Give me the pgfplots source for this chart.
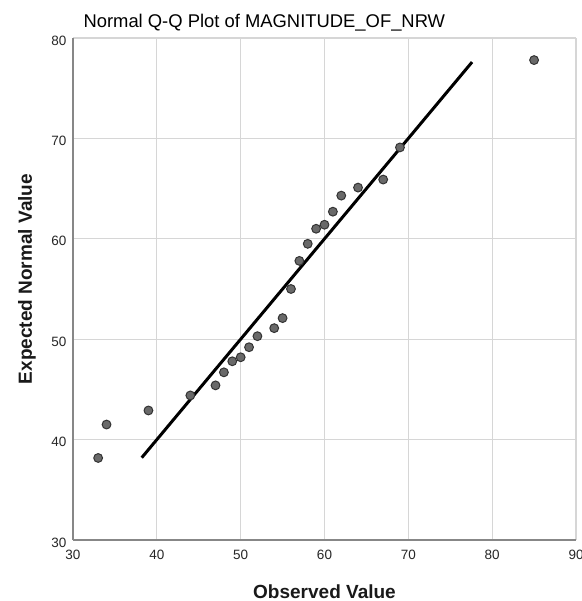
\documentclass[border=0pt]{standalone}
\usepackage{pgfplots}
\pgfplotsset{compat=1.18}
\usepackage{fontspec}
\setmainfont{Liberation Sans}
\definecolor{gridc}{RGB}{214,214,214}
\definecolor{axc}{RGB}{135,135,135}
\definecolor{markc}{RGB}{105,105,105}
\begin{document}
\begin{tikzpicture}
\begin{axis}[
  at={(0pt,0pt)}, anchor=south west,
  scale only axis, width=503pt, height=502pt,
  xmin=30, xmax=90, ymin=30, ymax=80,
  xtick={30,40,...,90}, ytick={30,40,...,80},
  grid=major, major grid style={gridc, line width=1.2pt},
  axis x line*=bottom, axis y line*=left,
  axis line style={axc, line width=1.2pt},
  major tick length=0pt,
  ticklabel style={font=\fontsize{13.5}{15}\selectfont, text=black!85},
  xticklabel style={yshift=-7pt},
  yticklabel style={xshift=-3pt, yshift=-2.5pt},
  /pgf/number format/assume math mode=true,
]
\addplot[only marks, mark=*, mark size=4.4pt,
  mark options={fill=markc, draw=black!80, line width=1pt}] coordinates {
  (33,38.17) (34,41.5) (39,42.9) (44,44.4) (47,45.4) (48,46.7) (49,47.8)
  (50,48.2) (51,49.2) (52,50.3) (54,51.1) (55,52.1) (56,55.0) (57,57.8)
  (58,59.5) (59,61.0) (60,61.4) (61,62.7) (62,64.3) (64,65.1) (67,65.9)
  (69,69.1) (85,77.8)
};
\addplot[black, line width=3pt] coordinates {(38.2,38.2) (77.6,77.6)};
\end{axis}
\node[anchor=base west, font=\fontsize{18.4}{20}\selectfont, text=black] at (7pt,512pt) {Normal Q-Q Plot of MAGNITUDE\_OF\_NRW};
\node[anchor=base, font=\fontsize{19}{21}\selectfont\bfseries, text=black!90] at (251.5pt,-58pt) {Observed Value};
\node[anchor=base, rotate=90, font=\fontsize{19}{21}\selectfont\bfseries, text=black!90] at (-41pt,261pt) {Expected Normal Value};
\pgfresetboundingbox
\path[use as bounding box] (-73pt,-61pt) rectangle (508pt,540pt);
\end{tikzpicture}
\end{document}
